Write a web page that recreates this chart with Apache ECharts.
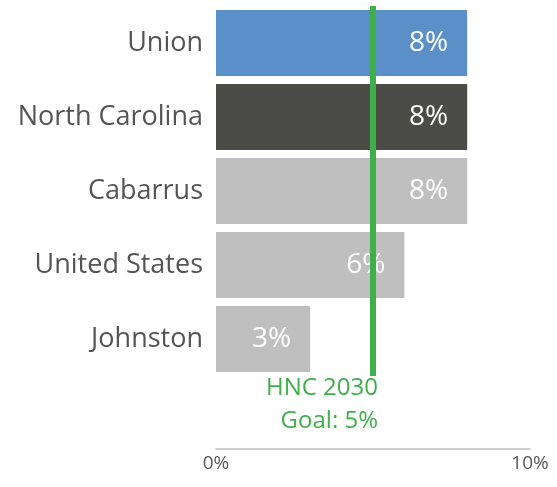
<!DOCTYPE html>
<html><head><meta charset="utf-8">
<script src="https://cdn.jsdelivr.net/npm/echarts@6/dist/echarts.min.js"></script>
<style>html,body{margin:0;padding:0;background:#fff}#c{width:557px;height:487px}</style>
</head><body><div id="c"></div>
<script>
var categories = ['Union', 'North Carolina', 'Cabarrus', 'United States', 'Johnston'];
var values = [8, 8, 8, 6, 3];
var barColors = ['#5A8FC7', '#4B4C46', '#BFBFBF', '#BFBFBF', '#BFBFBF'];
var goalValue = 5;
var goalLabel = 'HNC 2030\nGoal: 5%';
var xTicks = [0, 10];

var FONT = '"Open Sans"';
var GREEN = '#3FAE4B';
var chart = echarts.init(document.getElementById('c'), null, {renderer: 'canvas'});
chart.setOption({
  animation: false,
  grid: {left: 216, right: 27, top: 6, bottom: 111, containLabel: false},
  xAxis: {
    type: 'value', min: xTicks[0], max: xTicks[1], interval: 10,
    offset: 73,
    axisLine: {show: true, lineStyle: {color: '#D0D0D0', width: 2}},
    axisTick: {show: false},
    splitLine: {show: false},
    axisLabel: {formatter: '{value}%', color: '#595959', fontSize: 19, fontFamily: FONT, margin: 5}
  },
  yAxis: {
    type: 'category', data: categories, inverse: true,
    axisLine: {show: false}, axisTick: {show: false},
    axisLabel: {color: '#555555', fontSize: 27, fontFamily: FONT, margin: 13}
  },
  series: [{
    type: 'bar',
    data: values.map(function (v, i) { return {value: v, itemStyle: {color: barColors[i]}}; }),
    barCategoryGap: '11%',
    label: {show: true, position: 'insideRight', distance: 19, formatter: '{c}%', color: '#fff', fontSize: 28, fontFamily: FONT},
    markLine: {
      symbol: 'none', silent: true,
      data: [{xAxis: goalValue}],
      lineStyle: {color: GREEN, width: 6, type: 'solid'},
      label: {show: false}
    }
  }]
});
var gx = chart.convertToPixel({xAxisIndex: 0}, goalValue);
var gridBottom = 487 - 111;
chart.setOption({
  graphic: [{
    type: 'text', silent: true,
    x: gx + 5, y: gridBottom - 4,
    style: {text: goalLabel, fill: GREEN, font: '24px "Open Sans"', lineHeight: 33, align: 'right', verticalAlign: 'top'}
  }]
});
</script></body></html>
